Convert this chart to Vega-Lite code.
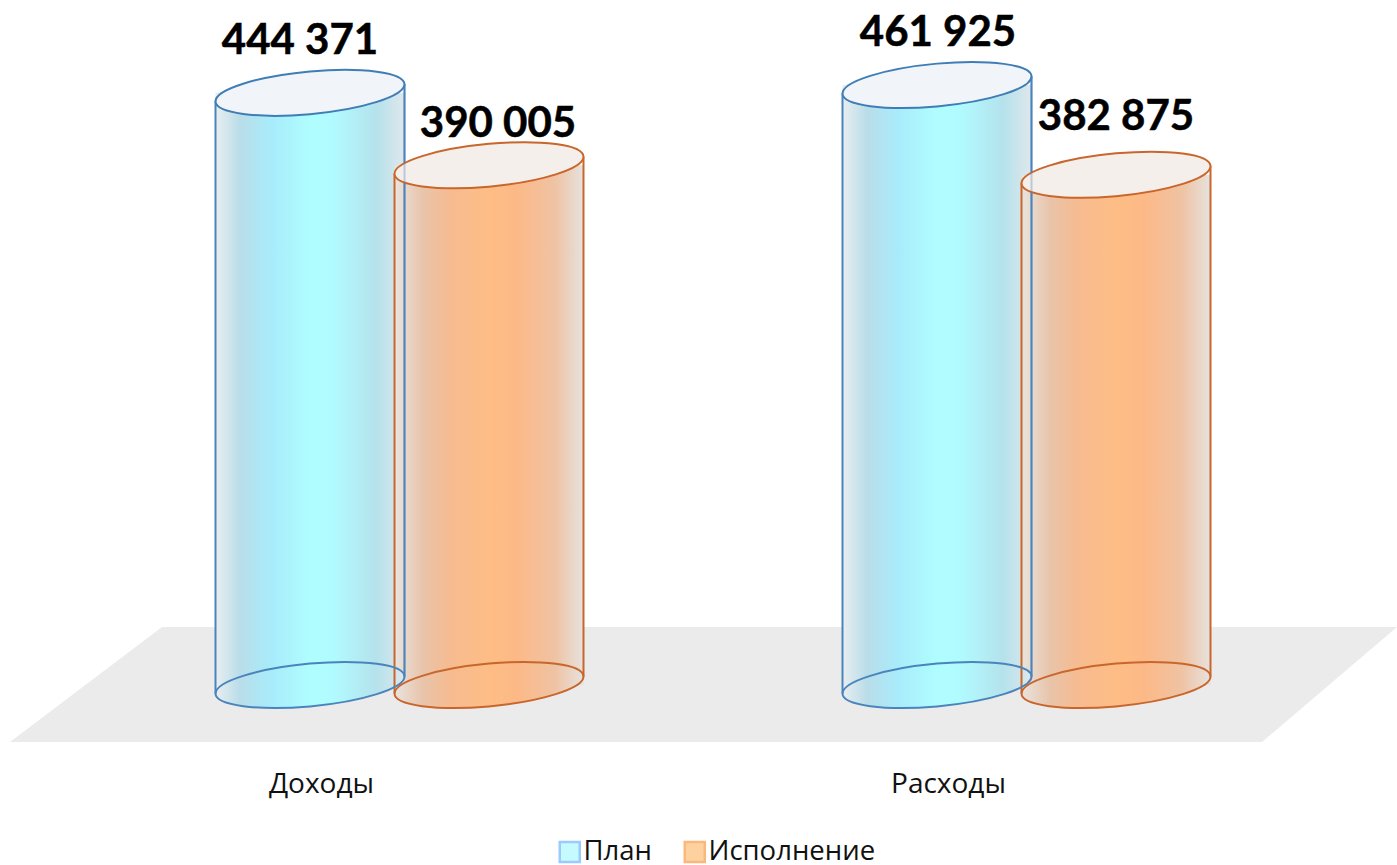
{"$schema":"https://vega.github.io/schema/vega-lite/v6.json","width":1397,"height":685,"autosize":"none","padding":{"left":0,"top":0,"right":0,"bottom":180},"background":"white","config":{"view":{"stroke":null},"font":"Open Sans"},
"datasets":{"bars":[{"category":"Доходы","series":"План","level":444371,"label":"444 371"},{"category":"Доходы","series":"Исполнение","level":390005,"label":"390 005"},{"category":"Расходы","series":"План","level":450200,"label":"461 925"},{"category":"Расходы","series":"Исполнение","level":382875,"label":"382 875"}]},
"data":{"name":"bars"},
"encoding":{
"x":{"field":"category","type":"nominal","sort":["Доходы","Расходы"],"title":null,"scale":{"range":[86,1340],"paddingInner":0,"paddingOuter":0},"axis":{"domain":false,"ticks":false,"labelAngle":0,"labelFontSize":28,"labelFont":"Open Sans","labelColor":"#111","labelPadding":85,"labelOffset":-78,"labelBaseline":"top"}},
"xOffset":{"field":"series","type":"nominal","sort":["План","Исполнение"],"scale":{"domain":["План","Исполнение"],"paddingInner":0,"paddingOuter":0.7514}},
"y":{"field":"level","type":"quantitative","title":null,"scale":{"domain":[0,514000],"nice":false},"axis":null}},
"layer":[
{"data":{"values":[{"category":"Доходы","series":"План","level":0}]},"mark":{"type":"point","filled":true,"opacity":1,"fill":"#ebebeb","size":4,"shape":"M-300,57 L952,57 L1087,-58 L-148,-58 Z"}},
{"mark":{"type":"bar","width":180,"strokeWidth":1},"encoding":{"y2":{"datum":0},
"fill":{"field":"series","type":"nominal","title":null,"scale":{"domain":["План","Исполнение"],"range":["#c5fbff","#fdd2a0"]},"legend":{"orient":"none","legendX":556,"legendY":838,"direction":"horizontal","columns":2,"symbolType":"square","symbolSize":400,"symbolStrokeWidth":2.5,"symbolOpacity":1,"labelFontSize":27.5,"labelFont":"Open Sans","labelColor":"#111","labelOffset":0,"labelLimit":400,"columnPadding":27,"padding":0}},
"stroke":{"field":"series","type":"nominal","title":null,"scale":{"domain":["План","Исполнение"],"range":["#9ccaff","#fbb87a"]}}}},
{"transform":[{"filter":"datum.series==='План'"}],"mark":{"type":"bar","width":189,"fill":{"gradient":"linear","x1":0,"y1":0,"x2":1,"y2":0,"stops":[{"offset":0,"color":"#e9eef0"},{"offset":0.13,"color":"#b9dde9"},{"offset":0.3,"color":"#a8ecfb"},{"offset":0.5,"color":"#b0fdff"},{"offset":0.62,"color":"#b0fbff"},{"offset":0.85,"color":"#b5e2ec"},{"offset":1,"color":"#dfe7eb"}]}},"encoding":{"y2":{"datum":0}}},
{"transform":[{"filter":"datum.series==='Исполнение'"}],"mark":{"type":"bar","width":189,"fill":{"gradient":"linear","x1":0,"y1":0,"x2":1,"y2":0,"stops":[{"offset":0,"color":"#e9e4df"},{"offset":0.15,"color":"#e8c4aa"},{"offset":0.3,"color":"#f6bb90"},{"offset":0.5,"color":"#febd85"},{"offset":0.65,"color":"#fcb987"},{"offset":0.85,"color":"#efc3a4"},{"offset":1,"color":"#e6e2de"}]}},"encoding":{"y2":{"datum":0}}},
{"transform":[{"filter":"datum.series==='План'"}],"mark":{"type":"point","filled":true,"opacity":1,"size":4,"strokeWidth":0,"fill":{"gradient":"linear","x1":0,"y1":0,"x2":1,"y2":0,"stops":[{"offset":0,"color":"#e9eef0"},{"offset":0.13,"color":"#b9dde9"},{"offset":0.3,"color":"#a8ecfb"},{"offset":0.5,"color":"#b0fdff"},{"offset":0.62,"color":"#b0fbff"},{"offset":0.85,"color":"#b5e2ec"},{"offset":1,"color":"#dfe7eb"}]},"shape":"M94.5,-8.5 C94.5,3.32 52.2,16.7 0,21.4 C-52.2,26.09 -94.5,20.32 -94.5,8.5 C-94.5,-3.32 -52.2,-16.7 0,-21.4 C52.2,-26.09 94.5,-20.32 94.5,-8.5 Z"},"encoding":{"y":{"datum":0}}},
{"transform":[{"filter":"datum.series==='Исполнение'"}],"mark":{"type":"point","filled":true,"opacity":1,"size":4,"strokeWidth":0,"fill":{"gradient":"linear","x1":0,"y1":0,"x2":1,"y2":0,"stops":[{"offset":0,"color":"#e9e4df"},{"offset":0.15,"color":"#e8c4aa"},{"offset":0.3,"color":"#f6bb90"},{"offset":0.5,"color":"#febd85"},{"offset":0.65,"color":"#fcb987"},{"offset":0.85,"color":"#efc3a4"},{"offset":1,"color":"#e6e2de"}]},"shape":"M94.5,-8.5 C94.5,3.32 52.2,16.7 0,21.4 C-52.2,26.09 -94.5,20.32 -94.5,8.5 C-94.5,-3.32 -52.2,-16.7 0,-21.4 C52.2,-26.09 94.5,-20.32 94.5,-8.5 Z"},"encoding":{"y":{"datum":0}}},
{"transform":[{"filter":"datum.series==='План'"}],"mark":{"type":"rule","color":"#4a84bc","strokeWidth":2,"xOffset":-184,"yOffset":8.5,"y2Offset":8.5},"encoding":{"xOffset":null,"y2":{"datum":0}}},
{"transform":[{"filter":"datum.series==='План'"}],"mark":{"type":"rule","color":"#4a84bc","strokeWidth":2,"xOffset":5,"yOffset":-8.5,"y2Offset":-8.5},"encoding":{"xOffset":null,"y2":{"datum":0}}},
{"transform":[{"filter":"datum.series==='Исполнение'"}],"mark":{"type":"rule","color":"#c9662c","strokeWidth":2,"xOffset":-5,"yOffset":8.5,"y2Offset":8.5},"encoding":{"xOffset":null,"y2":{"datum":0}}},
{"transform":[{"filter":"datum.series==='Исполнение'"}],"mark":{"type":"rule","color":"#c9662c","strokeWidth":2,"xOffset":184,"yOffset":-8.5,"y2Offset":-8.5},"encoding":{"xOffset":null,"y2":{"datum":0}}},
{"transform":[{"filter":"datum.series==='План'"}],"mark":{"type":"point","filled":false,"opacity":1,"stroke":"#4a84bc","strokeWidth":2,"size":4,"shape":"M94.5,-8.5 C94.5,3.32 52.2,16.7 0,21.4 C-52.2,26.09 -94.5,20.32 -94.5,8.5 C-94.5,-3.32 -52.2,-16.7 0,-21.4 C52.2,-26.09 94.5,-20.32 94.5,-8.5 Z"},"encoding":{"y":{"datum":0}}},
{"transform":[{"filter":"datum.series==='Исполнение'"}],"mark":{"type":"point","filled":false,"opacity":1,"stroke":"#c9662c","strokeWidth":2,"size":4,"shape":"M94.5,-8.5 C94.5,3.32 52.2,16.7 0,21.4 C-52.2,26.09 -94.5,20.32 -94.5,8.5 C-94.5,-3.32 -52.2,-16.7 0,-21.4 C52.2,-26.09 94.5,-20.32 94.5,-8.5 Z"},"encoding":{"y":{"datum":0}}},
{"transform":[{"filter":"datum.series==='План'"}],"mark":{"type":"point","filled":true,"opacity":1,"fill":"#f1f4f8","stroke":"#3f7db6","strokeWidth":2,"size":4,"shape":"M94.5,-8.5 C94.5,3.32 52.2,16.7 0,21.4 C-52.2,26.09 -94.5,20.32 -94.5,8.5 C-94.5,-3.32 -52.2,-16.7 0,-21.4 C52.2,-26.09 94.5,-20.32 94.5,-8.5 Z"}},
{"transform":[{"filter":"datum.series==='Исполнение'"}],"mark":{"type":"point","filled":true,"opacity":1,"fill":"#f4efea","stroke":"#c9662c","strokeWidth":2,"size":4,"shape":"M94.5,-8.5 C94.5,3.32 52.2,16.7 0,21.4 C-52.2,26.09 -94.5,20.32 -94.5,8.5 C-94.5,-3.32 -52.2,-16.7 0,-21.4 C52.2,-26.09 94.5,-20.32 94.5,-8.5 Z"}},
{"transform":[{"filter":"datum.series==='План'"}],"mark":{"type":"rule","color":"#4a84bc","strokeWidth":2,"opacity":0.35,"xOffset":5,"yOffset":-8.5,"y2Offset":-8.5},"encoding":{"xOffset":null,"y2":{"datum":0}}},
{"transform":[{"filter":"datum.label==='444 371'"}],"mark":{"type":"text","font":"Lato","fontWeight":"bold","fontSize":42,"color":"#000","stroke":"#000","strokeWidth":0.5,"dx":-10,"dy":-52},"encoding":{"text":{"field":"label"}}},
{"transform":[{"filter":"datum.label==='390 005'"}],"mark":{"type":"text","font":"Lato","fontWeight":"bold","fontSize":42,"color":"#000","stroke":"#000","strokeWidth":0.5,"dx":9,"dy":-41},"encoding":{"text":{"field":"label"}}},
{"transform":[{"filter":"datum.label==='461 925'"}],"mark":{"type":"text","font":"Lato","fontWeight":"bold","fontSize":42,"color":"#000","stroke":"#000","strokeWidth":0.5,"dx":1,"dy":-52},"encoding":{"text":{"field":"label"}}},
{"transform":[{"filter":"datum.label==='382 875'"}],"mark":{"type":"text","font":"Lato","fontWeight":"bold","fontSize":42,"color":"#000","stroke":"#000","strokeWidth":0.5,"dx":0,"dy":-58},"encoding":{"text":{"field":"label"}}}
]}
